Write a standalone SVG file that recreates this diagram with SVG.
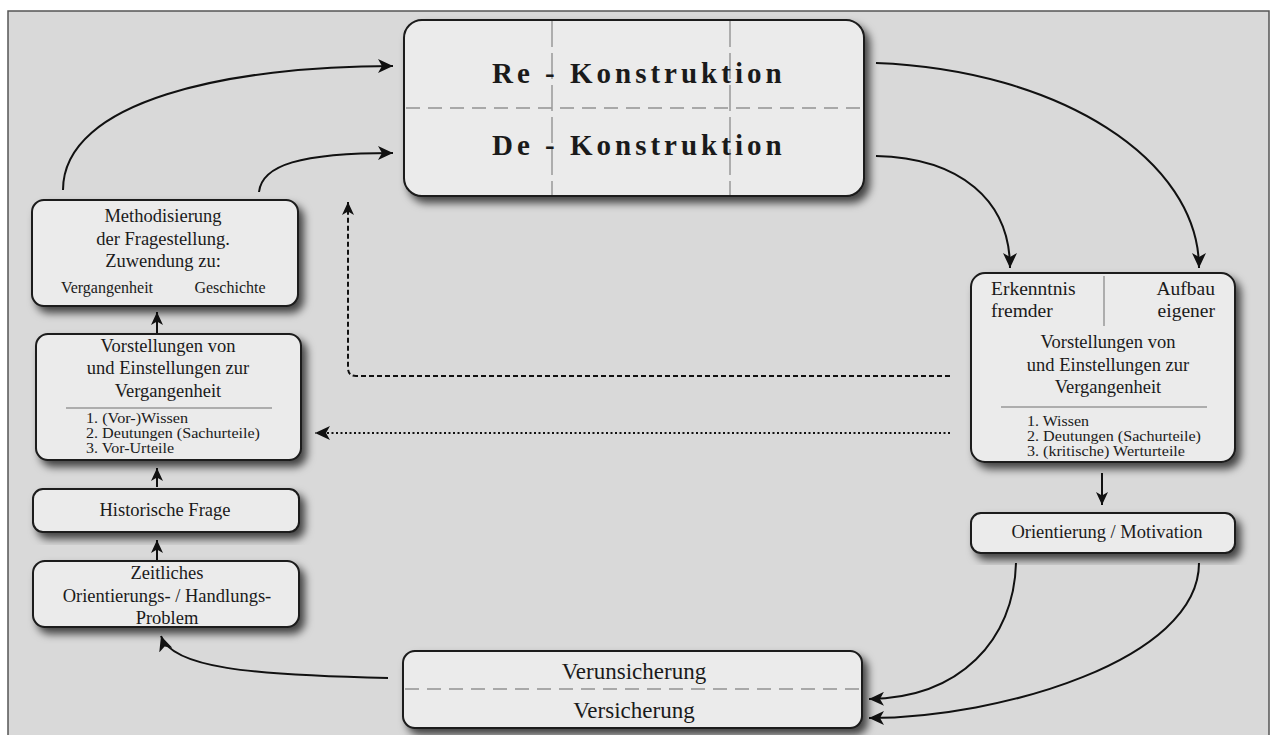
<svg xmlns="http://www.w3.org/2000/svg" width="1274" height="735" viewBox="0 0 1274 735">
<defs>
<filter id="sh" x="-10%" y="-20%" width="130%" height="150%">
<feDropShadow dx="5" dy="6" stdDeviation="4" flood-color="#000" flood-opacity="0.7"/>
</filter>
<marker id="ah" markerUnits="userSpaceOnUse" markerWidth="16" markerHeight="14" refX="15" refY="7" orient="auto">
<path d="M0,0 L15,7 L0,14 L4,7 Z" fill="#111"/>
</marker>
<marker id="ahs" markerUnits="userSpaceOnUse" markerWidth="14" markerHeight="12" refX="13" refY="6" orient="auto">
<path d="M0,0 L13,6 L0,12 L3.5,6 Z" fill="#111"/>
</marker>
<style>
.box{fill:#ebebeb;stroke:#1a1a1a;stroke-width:2;filter:url(#sh)}
.t{font-family:"Liberation Serif","Times New Roman",serif;fill:#1a1a1a}
.c{text-anchor:middle}
.big{font-size:18.5px}
.sm{font-size:16px}
.li{font-size:14px}
.title{font-size:29px;font-weight:bold;letter-spacing:4px}
.ln{fill:none;stroke:#111;stroke-width:2}
.sep{stroke:#999;stroke-width:1.5}
.dsep{stroke:#a8a8a8;stroke-width:2;stroke-dasharray:14,8;fill:none}
</style>
</defs>
<rect x="0" y="0" width="1274" height="735" fill="#ffffff"/>
<rect x="8" y="11" width="1261" height="730" fill="#d9d9d9" stroke="#555" stroke-width="1.5"/>

<g id="connectors">
<path class="ln" d="M63,190 C63,100 230,66 393,66" marker-end="url(#ah)"/>
<path class="ln" d="M259,192 C262,165 300,153 393,153" marker-end="url(#ah)"/>
<path class="ln" d="M876,156 C960,158 1010,200 1010,268" marker-end="url(#ah)"/>
<path class="ln" d="M876,63 C1060,70 1199,160 1199,268" marker-end="url(#ah)"/>
<path class="ln" d="M1016,563 C1014,640 960,698 869,699" marker-end="url(#ah)"/>
<path class="ln" d="M1199,563 C1199,660 1000,718 869,718" marker-end="url(#ah)"/>
<path class="ln" d="M388,678 C250,675 172,668 161,636" marker-end="url(#ah)"/>
<path class="ln" d="M950,376 L356,376 Q348,376 348,368 L348,202" stroke-dasharray="5,3" marker-end="url(#ahs)"/>
<path class="ln" d="M950,433 L315,433" stroke-width="1.8" stroke-dasharray="2,2.5" marker-end="url(#ah)"/>
<path class="ln" d="M157,333 L157,312" marker-end="url(#ahs)"/>
<path class="ln" d="M157,487 L157,468" marker-end="url(#ahs)"/>
<path class="ln" d="M157,560 L157,540" marker-end="url(#ahs)"/>
<path class="ln" d="M1102,473 L1102,505" marker-end="url(#ahs)"/>
</g>

<g id="main">
<rect class="box" x="404" y="20" width="460" height="176" rx="18"/>
<line class="dsep" x1="406" y1="108" x2="862" y2="108"/>
<line class="sep" x1="552" y1="21" x2="552" y2="195" stroke-dasharray="26,6"/>
<line class="sep" x1="730" y1="21" x2="730" y2="195" stroke-dasharray="26,6"/>
<text class="t title" x="492" y="83">Re - Konstruktion</text>
<text class="t title" x="492" y="155">De - Konstruktion</text>
</g>

<g id="methodisierung">
<rect class="box" x="32" y="200" width="266" height="106" rx="12"/>
<text class="t big c" x="163" y="222">Methodisierung</text>
<text class="t big c" x="163" y="245">der Fragestellung.</text>
<text class="t big c" x="163" y="267">Zuwendung zu:</text>
<text class="t sm c" x="107" y="293">Vergangenheit</text>
<text class="t sm c" x="230" y="293">Geschichte</text>
</g>

<g id="vorstellungen-links">
<rect class="box" x="36" y="334" width="265" height="126" rx="12"/>
<text class="t big c" x="168" y="352">Vorstellungen von</text>
<text class="t big c" x="168" y="374">und Einstellungen zur</text>
<text class="t big c" x="168" y="397">Vergangenheit</text>
<line class="sep" x1="66" y1="408" x2="272" y2="408"/>
<text class="t li" x="86" y="423" textLength="102" lengthAdjust="spacingAndGlyphs">1. (Vor-)Wissen</text>
<text class="t li" x="86" y="438" textLength="174" lengthAdjust="spacingAndGlyphs">2. Deutungen (Sachurteile)</text>
<text class="t li" x="86" y="453" textLength="88" lengthAdjust="spacingAndGlyphs">3. Vor-Urteile</text>
</g>

<g id="historische-frage">
<rect class="box" x="33" y="489" width="266" height="43" rx="10"/>
<text class="t big c" x="165" y="516">Historische Frage</text>
</g>

<g id="zeitliches">
<rect class="box" x="33" y="561" width="266" height="66" rx="12"/>
<text class="t big c" x="167" y="579">Zeitliches</text>
<text class="t big c" x="167" y="602">Orientierungs- / Handlungs-</text>
<text class="t big c" x="167" y="624">Problem</text>
</g>

<g id="vorstellungen-rechts">
<rect class="box" x="971" y="273" width="264" height="189" rx="14"/>
<line class="sep" x1="1104" y1="276" x2="1104" y2="326"/>
<text class="t" x="991" y="295" font-size="19.5">Erkenntnis</text>
<text class="t" x="991" y="317" font-size="19.5">fremder</text>
<text class="t" x="1215" y="295" font-size="19.5" text-anchor="end">Aufbau</text>
<text class="t" x="1215" y="317" font-size="19.5" text-anchor="end">eigener</text>
<text class="t big c" x="1108" y="348">Vorstellungen von</text>
<text class="t big c" x="1108" y="371">und Einstellungen zur</text>
<text class="t big c" x="1108" y="393">Vergangenheit</text>
<line class="sep" x1="1001" y1="407" x2="1207" y2="407"/>
<text class="t li" x="1027" y="426" textLength="62" lengthAdjust="spacingAndGlyphs">1. Wissen</text>
<text class="t li" x="1027" y="441" textLength="174" lengthAdjust="spacingAndGlyphs">2. Deutungen (Sachurteile)</text>
<text class="t li" x="1027" y="456" textLength="158" lengthAdjust="spacingAndGlyphs">3. (kritische) Werturteile</text>
</g>

<g id="orientierung">
<rect class="box" x="971" y="513" width="264" height="40" rx="10"/>
<text class="t c" x="1107" y="538" font-size="18.5">Orientierung / Motivation</text>
</g>

<g id="verunsicherung">
<rect class="box" x="403" y="651" width="459" height="77" rx="12"/>
<line class="dsep" x1="405" y1="689" x2="860" y2="689"/>
<text class="t c" x="634" y="679" font-size="23">Verunsicherung</text>
<text class="t c" x="634" y="718" font-size="23">Versicherung</text>
</g>
</svg>
